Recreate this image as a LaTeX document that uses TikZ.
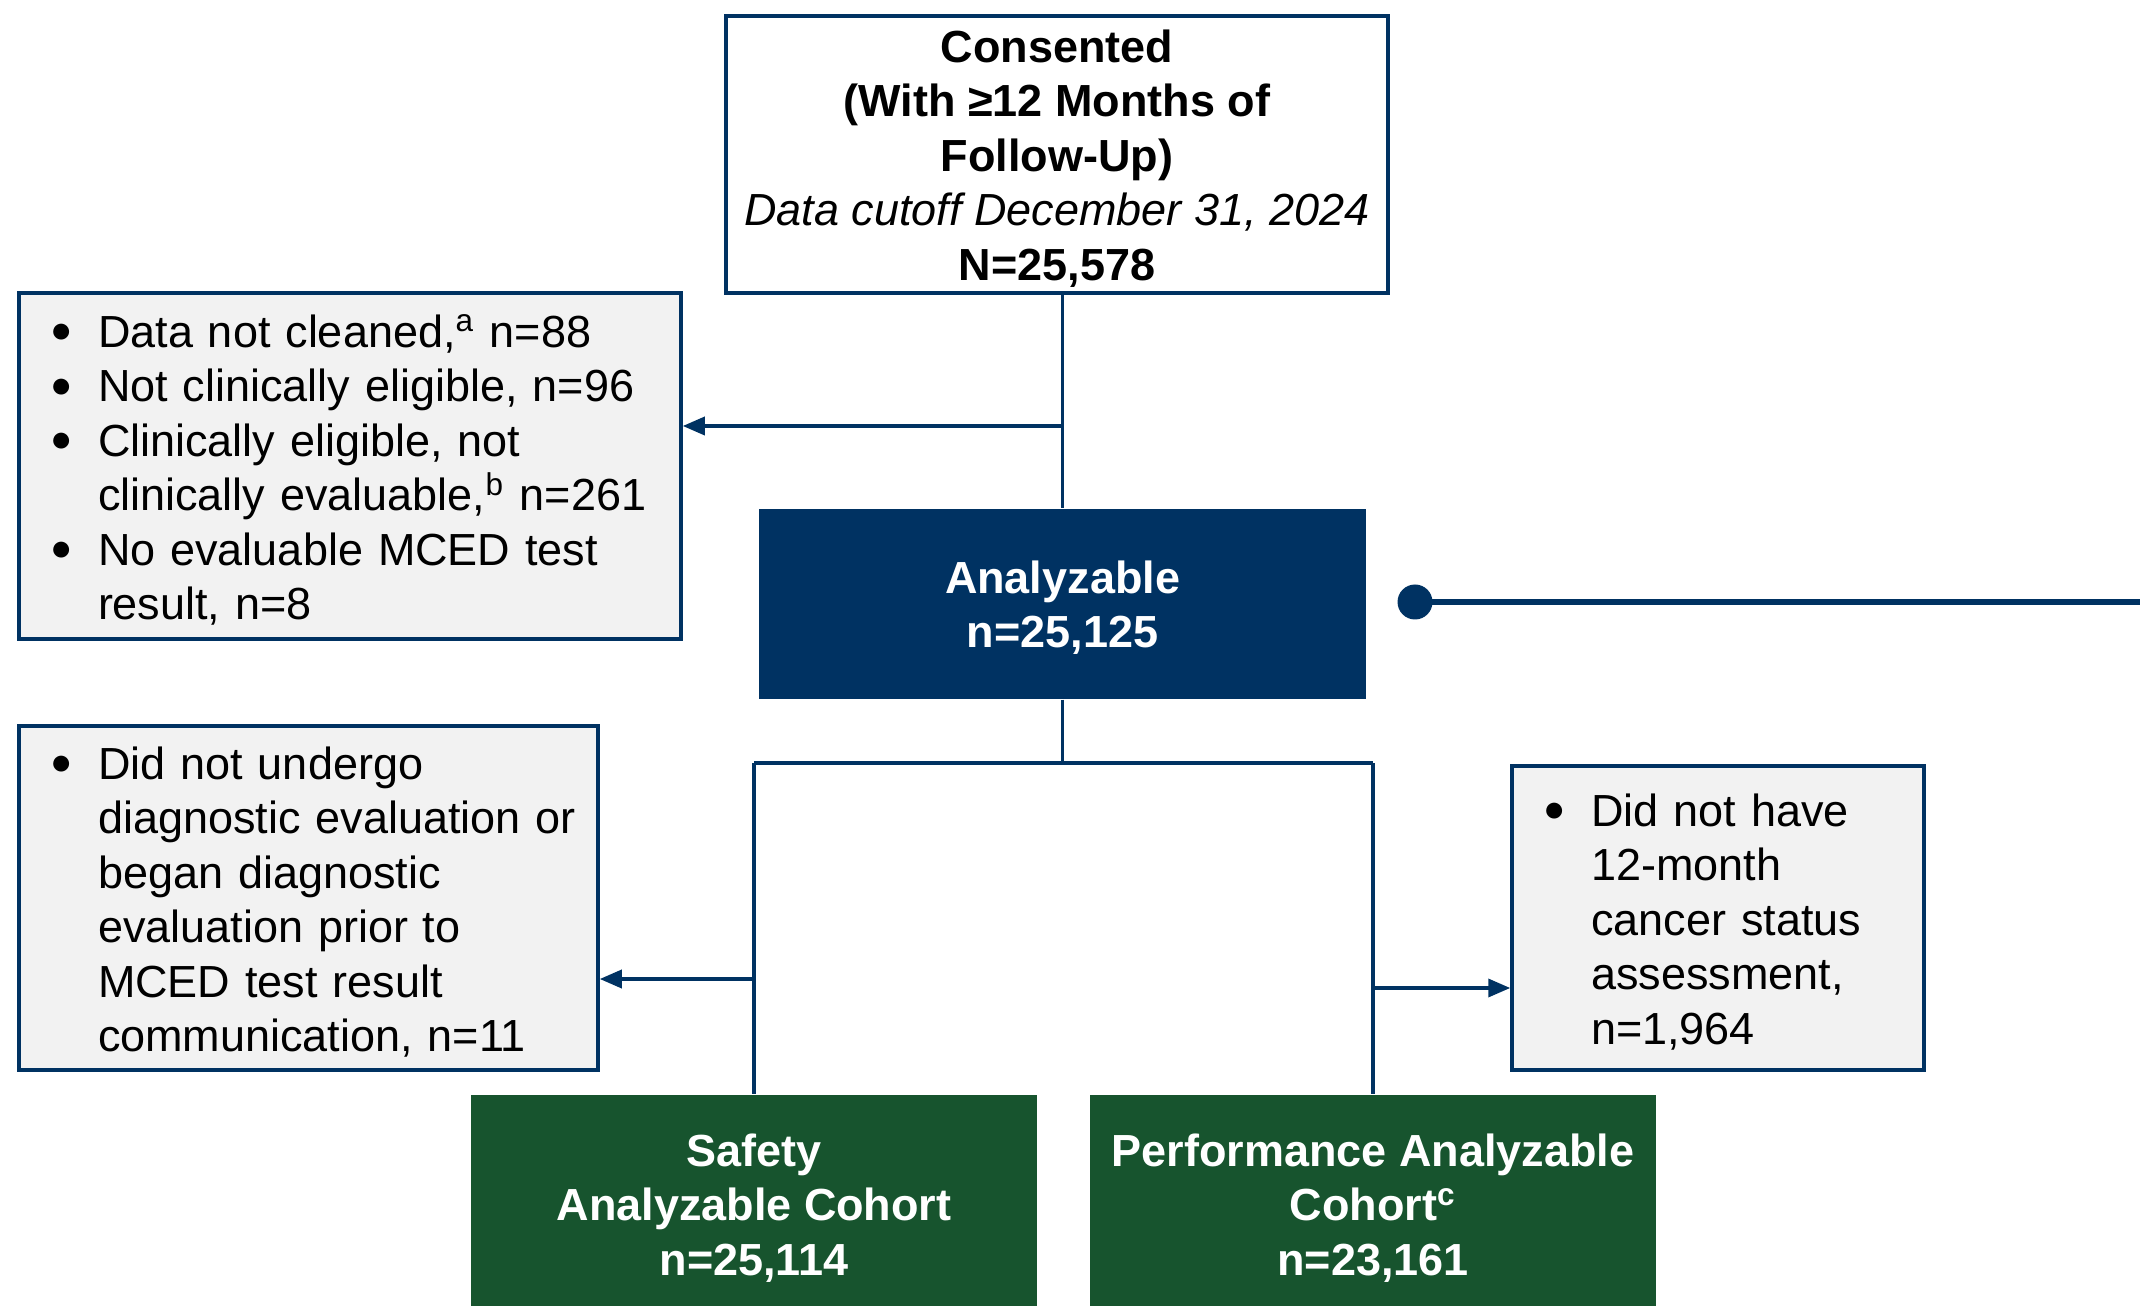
\documentclass[tikz,border=0pt]{standalone}
\usepackage{fontspec}
\setmainfont{Liberation Sans}
\usetikzlibrary{arrows.meta}

\definecolor{navy}{RGB}{0,50,98}
\definecolor{cohortgreen}{RGB}{23,84,46}
\definecolor{excgray}{RGB}{242,242,242}

% bullet line and continuation line
\newcommand{\bul}[1]{\mbox{\makebox[0.45cm][l]{\hspace*{-0.03cm}\raisebox{1.3pt}{\fontsize{10.5}{10.5}\selectfont ●}}#1}}
\newcommand{\cont}[1]{\mbox{\hspace*{0.45cm}#1}}

\begin{document}
\begin{tikzpicture}[
    txt/.style={font=\fontsize{12.8}{15.5}\selectfont, execute at begin node={\rule{0pt}{0.9em}}},
    topbox/.style={txt, draw=navy, line width=1pt, fill=white, align=flush center, inner sep=0},
    excbox/.style={txt, draw=navy, line width=1pt, fill=excgray, align=left, inner xsep=0.34cm, inner ysep=0},
    mainbox/.style={txt, font=\fontsize{12.8}{15.5}\selectfont\bfseries, fill=navy, text=white, align=flush center, inner sep=0},
    cohortbox/.style={txt, font=\fontsize{12.8}{15.5}\selectfont\bfseries, fill=cohortgreen, text=white, align=flush center, inner sep=0},
    flowline/.style={draw=navy, line width=1pt},
    arrowline/.style={flowline, -{Triangle[length=0.22cm, width=0.18cm]}}
]
    \clip (0,0) rectangle (21.40,-13.06);

    % Consented
    \node (consented) [topbox, minimum width=6.62cm, text width=6.62cm, minimum height=2.77cm] at (10.57,-1.545)
        {\textbf{Consented}\\ \textbf{(With ≥12 Months of}\\ \textbf{Follow-Up)}\\
         \textit{Data cutoff December 31, 2024}\\ \textbf{N=25,578}};

    % Exclusions 1
    \node (exc1) [excbox, minimum width=6.62cm, text width=5.94cm, minimum height=3.46cm] at (3.50,-4.66)
        {\bul{Data not cleaned,\textsuperscript{a} n=88}\\
         \bul{Not clinically eligible, n=96}\\
         \bul{Clinically eligible, not}\\
         \cont{clinically evaluable,\textsuperscript{b} n=261}\\
         \bul{No evaluable MCED test}\\
         \cont{result, n=8}};

    % Analyzable
    \node (analyzable) [mainbox, minimum width=6.07cm, text width=6.07cm, minimum height=1.90cm] at (10.625,-6.04)
        {Analyzable\\ n=25,125};
    \node (dot) [circle, fill=navy, minimum size=0.35cm, inner sep=0] at (14.15,-6.02) {};
    \coordinate (rightend) at (21.40,-6.02);

    % Exclusions 2 et 3
    \node (exc2) [excbox, minimum width=5.79cm, text width=5.11cm, minimum height=3.44cm] at (3.085,-8.98)
        {\bul{Did not undergo}\\
         \cont{diagnostic evaluation or}\\
         \cont{began diagnostic}\\
         \cont{evaluation prior to}\\
         \cont{MCED test result}\\
         \cont{communication, n=11}};
    \node (exc3) [excbox, minimum width=4.12cm, text width=3.44cm, minimum height=3.04cm] at (17.18,-9.18)
        {\bul{Did not have}\\
         \cont{12-month}\\
         \cont{cancer status}\\
         \cont{assessment,}\\
         \cont{n=1,964}};

    % Cohorts
    \node (safety) [cohortbox, minimum width=5.66cm, text width=5.66cm, minimum height=2.18cm] at (7.54,-12.04)
        {Safety\\ Analyzable Cohort\\ n=25,114};
    \node (perf) [cohortbox, minimum width=5.66cm, text width=5.66cm, minimum height=2.18cm] at (13.73,-12.04)
        {Performance Analyzable\\ Cohort\textsuperscript{c}\\ n=23,161};

    % Connectors
    \coordinate (excl1) at (10.625,-4.26);
    \coordinate (split) at (10.625,-7.63);
    \coordinate (excl2) at (7.54,-9.79);
    \coordinate (excl3) at (13.73,-9.88);

    \draw [flowline] (consented.south -| analyzable.north) -- (analyzable.north);
    \draw [arrowline] (excl1) -- (excl1 -| exc1.east);
    \draw [navy, line width=1.7pt] (dot.center) -- (rightend);

    \draw [flowline] (analyzable.south) -- (split);
    \draw [flowline] (split -| safety.north) -- (split -| perf.north);
    \draw [flowline] (split -| safety.north) -- (safety.north);
    \draw [flowline] (split -| perf.north) -- (perf.north);
    \draw [arrowline] (excl2) -- (excl2 -| exc2.east);
    \draw [arrowline] (excl3) -- (excl3 -| exc3.west);
\end{tikzpicture}
\end{document}
